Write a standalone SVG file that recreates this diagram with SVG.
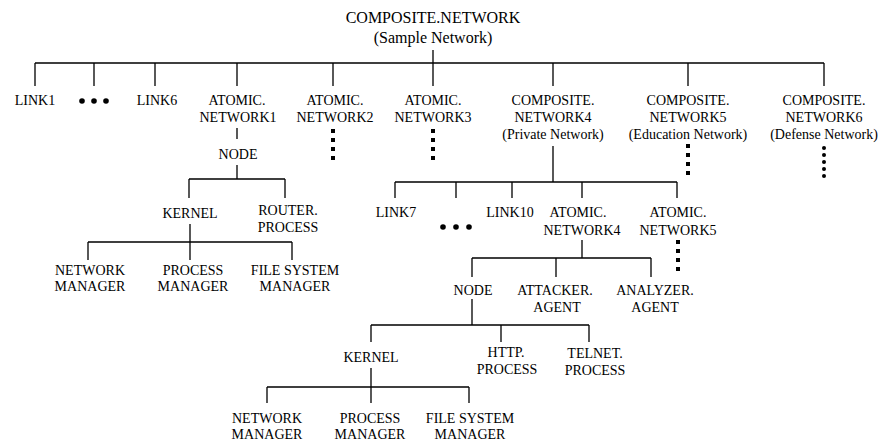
<svg xmlns="http://www.w3.org/2000/svg" width="885" height="441" viewBox="0 0 885 441">
<style>
text{font-family:"Liberation Serif","Times New Roman",serif;font-size:14px;fill:#000;text-anchor:middle}
.title{font-size:16px}
.ln{stroke:#000;stroke-width:1.3;fill:none}
.sq{fill:#000}
</style>
<rect width="885" height="441" fill="#fff"/>
<g id="connectors" class="ln">
<path d="M433 50V63M35 63H824M35 63V86M94 63V86M155 63V86M237 63V86M333 63V86M433 63V86M553 63V86M688 63V86M824 63V86"/>
<path d="M237 128V139M237 165V179M189 179H285M189 179V198M285 179V198"/>
<path d="M190 224V242M88 242H292M88 242V260M190 242V260M292 242V260"/>
<path d="M553 146V182M395 182H677M395 182V198M456 182V198M512 182V198M582 182V198M677 182V198"/>
<path d="M582 240V258M472 258H651M472 258V277M556 258V277M651 258V277"/>
<path d="M472 299V325M371 325H589M371 325V342M501 325V342M589 325V342"/>
<path d="M371 368V387M267 387H469M267 387V403M371 387V403M469 387V403"/>
</g>
<g id="composite-network"><text class="title" x="433" y="23">COMPOSITE.NETWORK</text><text class="title" x="433" y="43">(Sample Network)</text></g>
<g id="link1"><text x="35" y="105">LINK1</text></g>
<g id="dots1"><circle cx="82" cy="101" r="2.8"/><circle cx="94" cy="101" r="2.8"/><circle cx="106" cy="101" r="2.8"/></g>
<g id="link6"><text x="157" y="105">LINK6</text></g>
<g id="atomic-network1"><text x="237" y="105">ATOMIC.</text><text x="238" y="122">NETWORK1</text></g>
<g id="atomic-network2"><text x="335" y="105">ATOMIC.</text><text x="335" y="122">NETWORK2</text>
<rect class="sq" x="331" y="129" width="4" height="4"/><rect class="sq" x="331" y="138" width="4" height="4"/><rect class="sq" x="331" y="147" width="4" height="4"/><rect class="sq" x="331" y="156" width="4" height="4"/></g>
<g id="atomic-network3"><text x="433" y="105">ATOMIC.</text><text x="433" y="122">NETWORK3</text>
<rect class="sq" x="431" y="129" width="4" height="4"/><rect class="sq" x="431" y="138" width="4" height="4"/><rect class="sq" x="431" y="147" width="4" height="4"/><rect class="sq" x="431" y="156" width="4" height="4"/></g>
<g id="composite-network4"><text x="553" y="105">COMPOSITE.</text><text x="553" y="122">NETWORK4</text><text x="553" y="139">(Private Network)</text></g>
<g id="composite-network5"><text x="688" y="105">COMPOSITE.</text><text x="688" y="122">NETWORK5</text><text x="688" y="139">(Education Network)</text>
<rect class="sq" x="686" y="144" width="4" height="4"/><rect class="sq" x="686" y="153" width="4" height="4"/><rect class="sq" x="686" y="162" width="4" height="4"/><rect class="sq" x="686" y="171" width="4" height="4"/></g>
<g id="composite-network6"><text x="824" y="105">COMPOSITE.</text><text x="824" y="122">NETWORK6</text><text x="824" y="139">(Defense Network)</text>
<circle cx="824" cy="148" r="2"/><circle cx="824" cy="155" r="2"/><circle cx="824" cy="162" r="2"/><circle cx="824" cy="169" r="2"/><circle cx="824" cy="176" r="2"/></g>
<g id="node1"><text x="238" y="159">NODE</text></g>
<g id="kernel1"><text x="190" y="218">KERNEL</text></g>
<g id="router-process"><text x="288" y="215">ROUTER.</text><text x="288" y="232">PROCESS</text></g>
<g id="network-manager1"><text x="90" y="275">NETWORK</text><text x="90" y="291">MANAGER</text></g>
<g id="process-manager1"><text x="193" y="275">PROCESS</text><text x="193" y="291">MANAGER</text></g>
<g id="file-system-manager1"><text x="295" y="275">FILE SYSTEM</text><text x="295" y="291">MANAGER</text></g>
<g id="link7"><text x="396" y="217">LINK7</text></g>
<g id="dots2"><circle cx="443" cy="227" r="2.8"/><circle cx="456" cy="227" r="2.8"/><circle cx="469" cy="227" r="2.8"/></g>
<g id="link10"><text x="510" y="217">LINK10</text></g>
<g id="atomic-network4"><text x="578" y="217">ATOMIC.</text><text x="582" y="235">NETWORK4</text></g>
<g id="atomic-network5"><text x="678" y="217">ATOMIC.</text><text x="678" y="235">NETWORK5</text>
<rect class="sq" x="676" y="240" width="4" height="4"/><rect class="sq" x="676" y="249" width="4" height="4"/><rect class="sq" x="676" y="258" width="4" height="4"/><rect class="sq" x="676" y="267" width="4" height="4"/></g>
<g id="node2"><text x="473" y="295">NODE</text></g>
<g id="attacker-agent"><text x="555" y="295">ATTACKER.</text><text x="557" y="312">AGENT</text></g>
<g id="analyzer-agent"><text x="655" y="295">ANALYZER.</text><text x="655" y="312">AGENT</text></g>
<g id="kernel2"><text x="371" y="362">KERNEL</text></g>
<g id="http-process"><text x="506" y="357">HTTP.</text><text x="507" y="374">PROCESS</text></g>
<g id="telnet-process"><text x="595" y="358">TELNET.</text><text x="595" y="375">PROCESS</text></g>
<g id="network-manager2"><text x="267" y="423">NETWORK</text><text x="267" y="439">MANAGER</text></g>
<g id="process-manager2"><text x="370" y="423">PROCESS</text><text x="370" y="439">MANAGER</text></g>
<g id="file-system-manager2"><text x="470" y="423">FILE SYSTEM</text><text x="470" y="439">MANAGER</text></g>
</svg>
